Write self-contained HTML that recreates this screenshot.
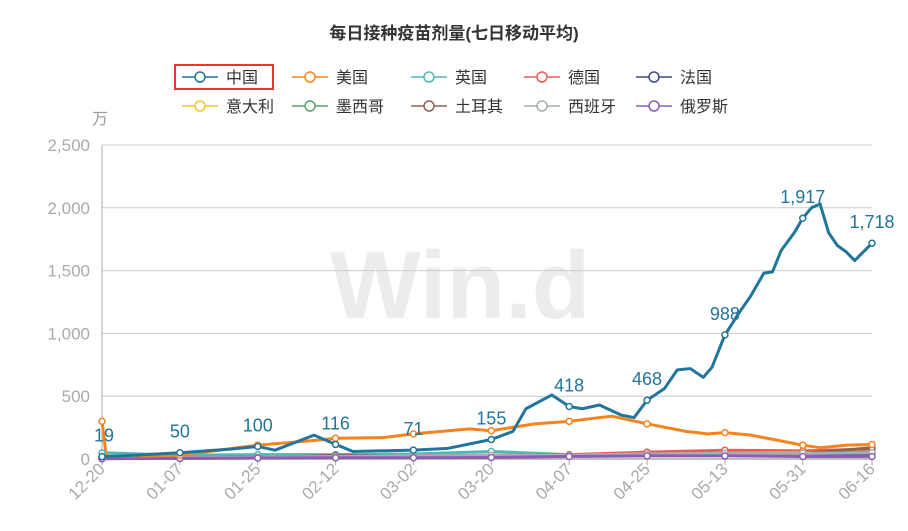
<!DOCTYPE html>
<html><head><meta charset="utf-8"><style>
body{margin:0;background:#fff;font-family:"Liberation Sans","Noto Sans CJK SC",sans-serif}
svg{display:block}
</style></head><body>
<svg id="c" width="908" height="531" font-family="Liberation Sans, Noto Sans CJK SC, sans-serif"></svg>
<script>
const xLabels=["12-20","01-07","01-25","02-12","03-02","03-20","04-07","04-25","05-13","05-31","06-16"];
const labelDays=[0,18,36,54,72,90,108,126,144,162,178];
const yTicks=[0,500,1000,1500,2000,2500];
const chinaDays=[0,5,18,30,36,40,49,54,58,72,80,90,95,98,104,108,111,115,120,123,126,130,133,136,139,141,144,147,150,153,155,157,160,162,164,166,168,170,172,174,178];
const chinaVals=[19,25,50,80,100,70,190,116,60,71,85,155,220,400,510,418,400,430,350,330,468,560,710,720,650,730,988,1150,1300,1480,1490,1660,1800,1917,2000,2030,1800,1700,1650,1580,1718];
const chinaLabels=[19,50,100,116,71,155,418,468,988,1917,1718];
const usDays=[0,1,18,36,50,54,65,72,85,90,100,108,115,118,126,135,140,144,150,156,162,166,172,178];
const usVals=[300,20,30,110,150,165,170,200,240,225,280,300,330,340,280,220,200,210,190,150,110,90,110,115];
const ukVals=[50,30,35,35,40,60,35,40,45,40,45];
const deVals=[5,10,15,20,25,30,35,55,70,65,80];
const frVals=[5,10,15,20,20,25,30,35,40,40,45];
const itVals=[5,10,12,15,20,25,30,40,45,50,55];
const mxVals=[2,5,8,10,15,20,25,30,40,45,55];
const trVals=[3,8,10,30,20,25,30,35,30,45,90];
const esVals=[5,10,15,20,25,30,30,40,45,45,50];
const ruVals=[3,5,8,10,10,12,20,25,25,20,20];
const legendNames=["中国","美国","英国","德国","法国","意大利","墨西哥","土耳其","西班牙","俄罗斯"];
const colors=["#21759b","#f5841f","#4fb9b5","#e85b5b","#3d4a8a","#f2c233","#5aa469","#8c6450","#a7adb5","#8e5cb5"];
const NS="http://www.w3.org/2000/svg";
const svg=document.getElementById('c');
const X=d=>102+d*(872-102)/178, Y=v=>459-v*(459-145)/2500;
function el(t,a,p){const e=document.createElementNS(NS,t);for(const k in a)e.setAttribute(k,a[k]);(p||svg).appendChild(e);return e;}
let t=el('text',{x:454,y:39,'text-anchor':'middle','font-size':17,'font-weight':'bold',fill:'#333'});t.textContent='每日接种疫苗剂量(七日移动平均)';


t=el('text',{x:330,y:318,'font-size':96,'font-weight':'bold',fill:'#ececec'});t.textContent='Win.d';


t=el('text',{x:92,y:124,'font-size':16,fill:'#999'});t.textContent='万';


yTicks.forEach(v=>{
 const g=el('line',{x1:102,x2:872,y1:Y(v),y2:Y(v),stroke:v?'#ccc':'#aaa','stroke-width':v?1:1.5});
 
 
 const l=el('text',{x:90,y:Y(v)+6,'text-anchor':'end','font-size':17,fill:'#aaa'});l.textContent=v.toLocaleString('en-US');
 
 
});
el('line',{x1:102,x2:102,y1:145,y2:459,stroke:'#aaa'});
xLabels.forEach((s,i)=>{
 const x=X(labelDays[i]);
 el('line',{x1:x,x2:x,y1:459,y2:465,stroke:'#aaa'});
 const l=el('text',{x:x+4,y:470,'text-anchor':'end','font-size':17,fill:'#aaa',transform:`rotate(-45 ${x+4} 470)`});l.textContent=s;
 
 
});
function series(days,vals,col,name,w){
 const p=el('polyline',{points:days.map((d,i)=>X(d)+','+Y(vals[i])).join(' '),fill:'none',stroke:col,'stroke-width':w,'stroke-linejoin':'round'});
 
 
}
function interp(days,vals,d){for(let i=1;i<days.length;i++)if(d<=days[i]){const f=(d-days[i-1])/(days[i]-days[i-1]||1);return vals[i-1]+f*(vals[i]-vals[i-1]);}return vals[vals.length-1];}
function markers(vals,col,name){labelDays.forEach((d,i)=>{const c=el('circle',{cx:X(d),cy:Y(vals[i]),r:3,fill:'#fff',stroke:col,'stroke-width':1.5});
 
 });}
const small=[ukVals,deVals,frVals,itVals,mxVals,trVals,esVals,ruVals];
small.forEach((v,k)=>{series(labelDays,v,colors[k+2],'series-'+(k+2),3);});
series(usDays,usVals,colors[1],'us',3);
series(chinaDays,chinaVals,colors[0],'china',3);
small.forEach((v,k)=>markers(v,colors[k+2],'series-'+(k+2)));
markers(labelDays.map(d=>interp(usDays,usVals,d)),colors[1],'us');
markers(labelDays.map(d=>interp(chinaDays,chinaVals,d)),colors[0],'china');
chinaLabels.forEach((v,i)=>{
 const d=labelDays[i];
 const l=el('text',{x:X(d)+(i==0?2:0),y:Y(v)-15,'text-anchor':'middle','font-size':18,fill:colors[0]});
 l.textContent=v.toLocaleString('en-US');
 
 
});
legendNames.forEach((n,i)=>{
 const r=Math.floor(i/5),c=i%5;
 const x=[182,292,411,524,636][c],y=77+r*29;
 const g=el('g',{});
 
 
 el('line',{x1:x,x2:x+36,y1:y,y2:y,stroke:colors[i],'stroke-width':1.5},g);
 el('circle',{cx:x+18,cy:y,r:5,fill:'#fff',stroke:colors[i],'stroke-width':1.5},g);
 const l=el('text',{x:x+44,y:y+6,'font-size':16,fill:'#333'},g);l.textContent=n;
});
const box=el('rect',{x:175,y:65,width:98,height:24,fill:'none',stroke:'#e33','stroke-width':2});


</script>
</body></html>
